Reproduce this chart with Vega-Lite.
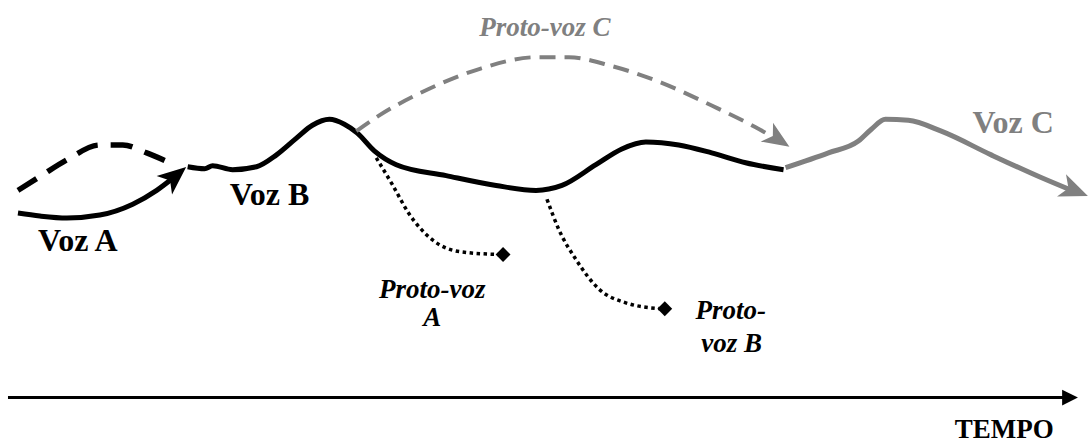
{
  "$schema": "https://vega.github.io/schema/vega-lite/v6.json",
  "width": 1088,
  "height": 443,
  "autosize": {"type": "fit", "contains": "padding"},
  "padding": 0,
  "background": "white",
  "config": {"view": {"stroke": null}},
  "datasets": {
    "lines": [
      {"series": "vozA", "x": 18, "y": 216},
      {"series": "vozA", "x": 40, "y": 219},
      {"series": "vozA", "x": 67, "y": 221},
      {"series": "vozA", "x": 100, "y": 218},
      {"series": "vozA", "x": 133, "y": 207},
      {"series": "vozA", "x": 157, "y": 193},
      {"series": "vozA", "x": 174, "y": 180},

      {"series": "vozAdash", "x": 18, "y": 193},
      {"series": "vozAdash", "x": 40, "y": 179},
      {"series": "vozAdash", "x": 67, "y": 162},
      {"series": "vozAdash", "x": 100, "y": 147},
      {"series": "vozAdash", "x": 123, "y": 147},
      {"series": "vozAdash", "x": 147, "y": 155},
      {"series": "vozAdash", "x": 170, "y": 165},

      {"series": "vozB", "x": 188, "y": 169},
      {"series": "vozB", "x": 205, "y": 171},
      {"series": "vozB", "x": 213, "y": 168},
      {"series": "vozB", "x": 233, "y": 172},
      {"series": "vozB", "x": 257, "y": 169},
      {"series": "vozB", "x": 277, "y": 157},
      {"series": "vozB", "x": 297, "y": 140},
      {"series": "vozB", "x": 313, "y": 127},
      {"series": "vozB", "x": 330, "y": 121},
      {"series": "vozB", "x": 345, "y": 126},
      {"series": "vozB", "x": 358, "y": 135},
      {"series": "vozB", "x": 375, "y": 153},
      {"series": "vozB", "x": 397, "y": 167},
      {"series": "vozB", "x": 447, "y": 178},
      {"series": "vozB", "x": 497, "y": 188},
      {"series": "vozB", "x": 537, "y": 193},
      {"series": "vozB", "x": 563, "y": 188},
      {"series": "vozB", "x": 597, "y": 167},
      {"series": "vozB", "x": 623, "y": 151},
      {"series": "vozB", "x": 647, "y": 144},
      {"series": "vozB", "x": 680, "y": 147},
      {"series": "vozB", "x": 713, "y": 155},
      {"series": "vozB", "x": 747, "y": 165},
      {"series": "vozB", "x": 785, "y": 172},

      {"series": "vozC", "x": 787, "y": 170},
      {"series": "vozC", "x": 830, "y": 155},
      {"series": "vozC", "x": 860, "y": 143},
      {"series": "vozC", "x": 873, "y": 131},
      {"series": "vozC", "x": 887, "y": 121},
      {"series": "vozC", "x": 910, "y": 122},
      {"series": "vozC", "x": 943, "y": 133},
      {"series": "vozC", "x": 993, "y": 157},
      {"series": "vozC", "x": 1043, "y": 180},
      {"series": "vozC", "x": 1076, "y": 194},

      {"series": "protoC", "x": 357, "y": 133},
      {"series": "protoC", "x": 380, "y": 117},
      {"series": "protoC", "x": 430, "y": 90},
      {"series": "protoC", "x": 480, "y": 70},
      {"series": "protoC", "x": 537, "y": 58},
      {"series": "protoC", "x": 570, "y": 58},
      {"series": "protoC", "x": 613, "y": 67},
      {"series": "protoC", "x": 663, "y": 84},
      {"series": "protoC", "x": 713, "y": 107},
      {"series": "protoC", "x": 757, "y": 129},
      {"series": "protoC", "x": 778, "y": 141},

      {"series": "protoA", "x": 377, "y": 160},
      {"series": "protoA", "x": 393, "y": 187},
      {"series": "protoA", "x": 410, "y": 217},
      {"series": "protoA", "x": 433, "y": 243},
      {"series": "protoA", "x": 460, "y": 255},
      {"series": "protoA", "x": 500, "y": 258},

      {"series": "protoB", "x": 548, "y": 202},
      {"series": "protoB", "x": 560, "y": 233},
      {"series": "protoB", "x": 577, "y": 263},
      {"series": "protoB", "x": 600, "y": 293},
      {"series": "protoB", "x": 627, "y": 307},
      {"series": "protoB", "x": 662, "y": 313},

      {"series": "tempo", "x": 8, "y": 403},
      {"series": "tempo", "x": 1068, "y": 403}
    ],
    "marks": [
      {"kind": "arrowA", "x": 175, "y": 179},
      {"kind": "arrowProtoC", "x": 779, "y": 141},
      {"kind": "arrowC", "x": 1076, "y": 193},
      {"kind": "arrowTempo", "x": 1072, "y": 403},
      {"kind": "diamond", "x": 504, "y": 258},
      {"kind": "diamond", "x": 666, "y": 313}
    ],
    "labels": [
      {"style": "boldBlack", "text": "Voz A", "x": 78, "y": 254},
      {"style": "boldBlack", "text": "Voz B", "x": 270, "y": 208},
      {"style": "boldGray", "text": "Voz C", "x": 1015, "y": 135},
      {"style": "italicGray", "text": "Proto-voz C", "x": 546, "y": 37},
      {"style": "italicBlack", "text": "Proto-voz", "x": 433, "y": 302},
      {"style": "italicBlack", "text": "A", "x": 433, "y": 330},
      {"style": "italicBlack", "text": "Proto-", "x": 732, "y": 323},
      {"style": "italicBlack", "text": "voz B", "x": 733, "y": 357},
      {"style": "boldTempo", "text": "TEMPO", "x": 1006, "y": 444}
    ]
  },
  "encoding": {
    "x": {"field": "x", "type": "quantitative", "scale": {"domain": [0, 1088], "nice": false, "zero": false}, "axis": null},
    "y": {"field": "y", "type": "quantitative", "scale": {"domain": [0, 443], "nice": false, "zero": false, "reverse": true}, "axis": null}
  },
  "layer": [
    {
      "data": {"name": "lines"},
      "transform": [{"filter": "datum.series === 'vozA'"}],
      "mark": {"type": "line", "interpolate": "monotone", "color": "black", "strokeWidth": 5}
    },
    {
      "data": {"name": "lines"},
      "transform": [{"filter": "datum.series === 'vozAdash'"}],
      "mark": {"type": "line", "interpolate": "monotone", "color": "black", "strokeWidth": 5.5, "strokeDash": [22, 13]}
    },
    {
      "data": {"name": "lines"},
      "transform": [{"filter": "datum.series === 'vozB'"}],
      "mark": {"type": "line", "interpolate": "monotone", "color": "black", "strokeWidth": 5}
    },
    {
      "data": {"name": "lines"},
      "transform": [{"filter": "datum.series === 'vozC'"}],
      "mark": {"type": "line", "interpolate": "monotone", "color": "#808080", "strokeWidth": 5}
    },
    {
      "data": {"name": "lines"},
      "transform": [{"filter": "datum.series === 'protoC'"}],
      "mark": {"type": "line", "interpolate": "monotone", "color": "#808080", "strokeWidth": 4, "strokeDash": [16, 9]}
    },
    {
      "data": {"name": "lines"},
      "transform": [{"filter": "datum.series === 'protoA' || datum.series === 'protoB'"}],
      "mark": {"type": "line", "interpolate": "monotone", "color": "black", "strokeWidth": 3.5, "strokeDash": [3.5, 3.5]},
      "encoding": {"detail": {"field": "series"}}
    },
    {
      "data": {"name": "lines"},
      "transform": [{"filter": "datum.series === 'tempo'"}],
      "mark": {"type": "line", "color": "black", "strokeWidth": 3}
    },
    {
      "data": {"name": "marks"},
      "transform": [{"filter": "datum.kind === 'arrowA'"}],
      "mark": {"type": "point", "shape": "M0,-1 L0.8,0.9 L0,0.4 L-0.8,0.9 Z", "filled": true, "color": "black", "opacity": 1, "strokeWidth": 0, "size": 900, "angle": 50}
    },
    {
      "data": {"name": "marks"},
      "transform": [{"filter": "datum.kind === 'arrowProtoC'"}],
      "mark": {"type": "point", "shape": "M0,-1 L0.8,0.9 L0,0.4 L-0.8,0.9 Z", "filled": true, "color": "#808080", "opacity": 1, "strokeWidth": 0, "size": 800, "angle": 123}
    },
    {
      "data": {"name": "marks"},
      "transform": [{"filter": "datum.kind === 'arrowC'"}],
      "mark": {"type": "point", "shape": "M0,-1 L0.8,0.9 L0,0.4 L-0.8,0.9 Z", "filled": true, "color": "#808080", "opacity": 1, "strokeWidth": 0, "size": 900, "angle": 112}
    },
    {
      "data": {"name": "marks"},
      "transform": [{"filter": "datum.kind === 'arrowTempo'"}],
      "mark": {"type": "point", "shape": "M1,0 L-1,-1 L-1,1 Z", "filled": true, "color": "black", "opacity": 1, "strokeWidth": 0, "size": 250}
    },
    {
      "data": {"name": "marks"},
      "transform": [{"filter": "datum.kind === 'diamond'"}],
      "mark": {"type": "point", "shape": "diamond", "filled": true, "color": "black", "opacity": 1, "size": 220}
    },
    {
      "data": {"name": "labels"},
      "transform": [{"filter": "datum.style === 'boldBlack'"}],
      "mark": {"type": "text", "font": "Liberation Serif", "fontWeight": "bold", "fontSize": 32, "color": "black", "align": "center", "baseline": "alphabetic"},
      "encoding": {"text": {"field": "text"}}
    },
    {
      "data": {"name": "labels"},
      "transform": [{"filter": "datum.style === 'boldGray'"}],
      "mark": {"type": "text", "font": "Liberation Serif", "fontWeight": "bold", "fontSize": 32, "color": "#808080", "align": "center", "baseline": "alphabetic"},
      "encoding": {"text": {"field": "text"}}
    },
    {
      "data": {"name": "labels"},
      "transform": [{"filter": "datum.style === 'italicGray'"}],
      "mark": {"type": "text", "font": "Liberation Serif", "fontWeight": "bold", "fontStyle": "italic", "fontSize": 27, "color": "#808080", "align": "center", "baseline": "alphabetic"},
      "encoding": {"text": {"field": "text"}}
    },
    {
      "data": {"name": "labels"},
      "transform": [{"filter": "datum.style === 'italicBlack'"}],
      "mark": {"type": "text", "font": "Liberation Serif", "fontWeight": "bold", "fontStyle": "italic", "fontSize": 27, "color": "black", "align": "center", "baseline": "alphabetic"},
      "encoding": {"text": {"field": "text"}}
    },
    {
      "data": {"name": "labels"},
      "transform": [{"filter": "datum.style === 'boldTempo'"}],
      "mark": {"type": "text", "font": "Liberation Serif", "fontWeight": "bold", "fontSize": 27, "color": "black", "align": "center", "baseline": "alphabetic"},
      "encoding": {"text": {"field": "text"}}
    }
  ]
}
